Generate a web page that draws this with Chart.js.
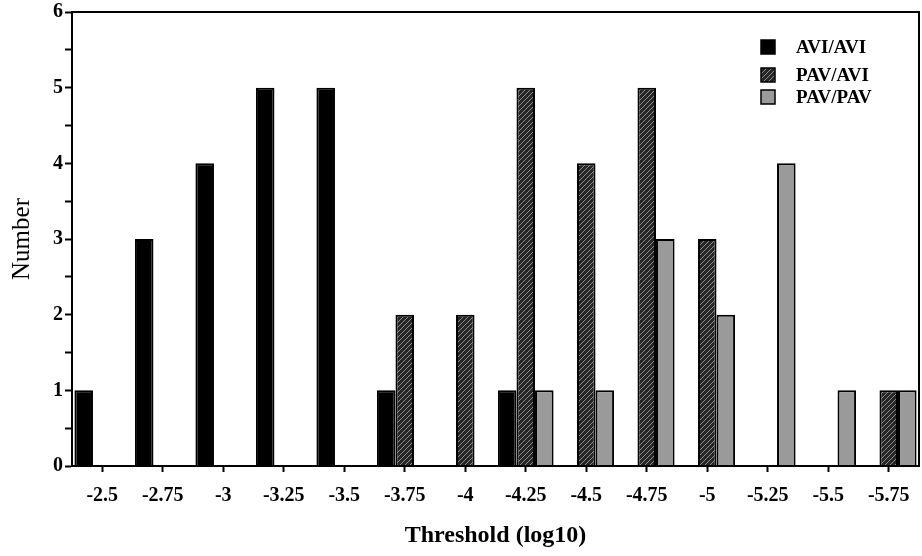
<!DOCTYPE html>
<html>
<head>
<meta charset="utf-8">
<script src="https://cdn.jsdelivr.net/npm/chart.js@4"></script>
<style>
  body { margin: 0; background: #fff; }
  #wrap { width: 922px; height: 556px; }
</style>
</head>
<body>
<div id="wrap"><canvas id="chart"></canvas></div>
<script>
const categories = ['-2.5', '-2.75', '-3', '-3.25', '-3.5', '-3.75', '-4', '-4.25', '-4.5', '-4.75', '-5', '-5.25', '-5.5', '-5.75'];
const aviAvi = [1, 3, 4, 5, 5, 1, 0, 1, 0, 0, 0, 0, 0, 0];
const pavAvi = [0, 0, 0, 0, 0, 2, 2, 5, 4, 5, 3, 0, 0, 1];
const pavPav = [0, 0, 0, 0, 0, 0, 0, 1, 1, 3, 2, 4, 1, 1];
const seriesNames = ['AVI/AVI', 'PAV/AVI', 'PAV/PAV'];

const serif = "'Liberation Serif', 'Times New Roman', serif";

// diagonal hatch for the middle series
function hatch() {
  const c = document.createElement('canvas');
  c.width = c.height = 5;
  const g = c.getContext('2d');
  g.fillStyle = '#262626';
  g.fillRect(0, 0, 5, 5);
  g.strokeStyle = '#8c8c8c';
  g.lineWidth = 1;
  g.beginPath();
  g.moveTo(0, 5); g.lineTo(5, 0);
  g.moveTo(-1, 1); g.lineTo(1, -1);
  g.moveTo(4, 6); g.lineTo(6, 4);
  g.stroke();
  return g.createPattern(c, 'repeat');
}

// box round the plot + legend inside the top right corner
const framePlugin = {
  id: 'frame',
  afterDraw(chart) {
    const { ctx, chartArea: a } = chart;
    ctx.save();
    ctx.strokeStyle = '#000';
    ctx.lineWidth = 2;
    ctx.strokeRect(a.left, a.top, a.right - a.left, a.bottom - a.top);

    const rows = [47, 75, 97];
    ctx.font = 'bold 19px ' + serif;
    ctx.textBaseline = 'middle';
    chart.data.datasets.forEach((ds, i) => {
      ctx.fillStyle = ds.backgroundColor;
      ctx.fillRect(761, rows[i] - 7, 14, 14);
      ctx.lineWidth = 1.5;
      ctx.strokeStyle = '#000';
      ctx.strokeRect(761, rows[i] - 7, 14, 14);
      ctx.fillStyle = '#000';
      ctx.fillText(ds.label, 796, rows[i] + 1);
    });
    ctx.restore();
  }
};

const ctx = document.getElementById('chart').getContext('2d');
const fills = ['#000000', hatch(), '#9a9a9a'];
const values = [aviAvi, pavAvi, pavPav];

new Chart(ctx, {
  type: 'bar',
  data: {
    labels: categories,
    datasets: seriesNames.map((name, i) => ({
      label: name,
      data: values[i],
      backgroundColor: fills[i],
      borderColor: '#000',
      borderWidth: 2,
      categoryPercentage: 0.92,
      barPercentage: 1.0
    }))
  },
  options: {
    responsive: true,
    maintainAspectRatio: false,
    animation: false,
    layout: { padding: { top: 10, right: 3 } },
    plugins: {
      legend: { display: false },
      tooltip: { enabled: false }
    },
    scales: {
      x: {
        afterFit(scale) { scale.height = 90; },
        grid: { offset: false, drawOnChartArea: false, tickLength: 6, color: '#000', tickWidth: 2 },
        border: { color: '#000', width: 2 },
        ticks: { color: '#000', padding: 12, maxRotation: 0, font: { family: serif, size: 20, weight: 'bold' } },
        title: {
          display: true,
          text: 'Threshold (log10)',
          color: '#000',
          padding: { bottom: 6 },
          font: { family: serif, size: 24, weight: 'bold' }
        }
      },
      y: {
        min: 0,
        max: 6,
        afterFit(scale) { scale.width = 72; },
        grid: { drawOnChartArea: false, tickLength: 7, color: '#000', tickWidth: 2 },
        border: { color: '#000', width: 2 },
        ticks: {
          stepSize: 0.5,
          color: '#000',
          padding: 2,
          font: { family: serif, size: 20, weight: 'bold', lineHeight: 1 },
          callback: v => (v % 1 === 0 ? v : '')
        },
        title: {
          display: true,
          text: 'Number',
          color: '#000',
          padding: { top: 7 },
          font: { family: serif, size: 25 }
        }
      }
    }
  },
  plugins: [framePlugin]
});
</script>
</body>
</html>
